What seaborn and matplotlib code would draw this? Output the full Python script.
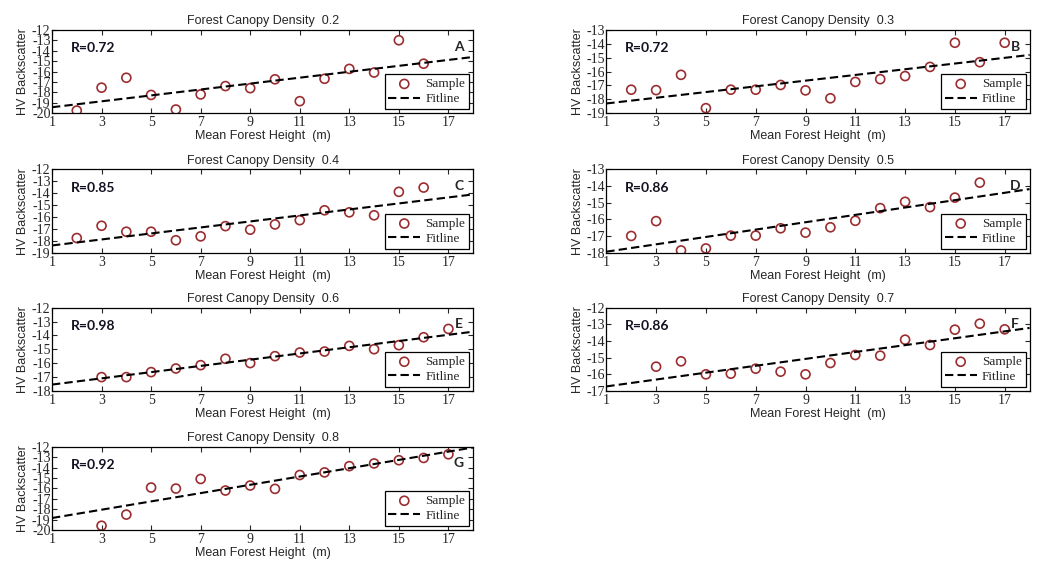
import pandas as pd
import seaborn as sns
import matplotlib.pyplot as plt

# Values (HV backscatter vs mean forest height)
DENSITIES = ["0.2", "0.3", "0.4", "0.5", "0.6", "0.7", "0.8"]
PANEL_LETTERS = ["A", "B", "C", "D", "E", "F", "G"]
R_VALUES = ["0.72", "0.72", "0.85", "0.86", "0.98", "0.86", "0.92"]
Y_LIMITS = [(-20, -12), (-19, -13), (-19, -12), (-18, -13), (-18, -12), (-17, -12), (-20, -12)]
X_TICKS = [1, 3, 5, 7, 9, 11, 13, 15, 17]

height_a = [2, 3, 4, 5, 6, 7, 8, 9, 10, 11, 12, 13, 14, 15, 16]
hv_a = [-19.75, -17.55, -16.6, -18.25, -19.65, -18.2, -17.4, -17.6, -16.75, -18.85, -16.7, -15.75, -16.1, -13.0, -15.25]

height_b = [2, 3, 4, 5, 6, 7, 8, 9, 10, 11, 12, 13, 14, 15, 16, 17]
hv_b = [-17.31, -17.34, -16.24, -18.64, -17.31, -17.31, -16.97, -17.36, -17.93, -16.75, -16.55, -16.33, -15.67, -13.93, -15.33, -13.93]

height_c = [2, 3, 4, 5, 6, 7, 8, 9, 10, 11, 12, 13, 14, 15, 16]
hv_c = [-17.76, -16.73, -17.23, -17.23, -17.95, -17.62, -16.76, -17.06, -16.62, -16.26, -15.43, -15.6, -15.85, -13.88, -13.52]

height_d = [2, 3, 4, 5, 6, 7, 8, 9, 10, 11, 12, 13, 14, 15, 16]
hv_d = [-16.99, -16.1, -17.86, -17.74, -16.97, -16.97, -16.53, -16.79, -16.47, -16.08, -15.32, -14.94, -15.26, -14.69, -13.79]

height_e = [3, 4, 5, 6, 7, 8, 9, 10, 11, 12, 13, 14, 15, 16, 17]
hv_e = [-17.0, -17.0, -16.64, -16.38, -16.14, -15.68, -15.99, -15.49, -15.23, -15.16, -14.75, -14.99, -14.7, -14.13, -13.53]

height_f = [3, 4, 5, 6, 7, 8, 9, 10, 11, 12, 13, 14, 15, 16, 17]
hv_f = [-15.54, -15.22, -16.0, -15.96, -15.66, -15.84, -16.0, -15.32, -14.84, -14.88, -13.92, -14.24, -13.32, -12.96, -13.3]

height_g = [3, 4, 5, 6, 7, 8, 9, 10, 11, 12, 13, 14, 15, 16, 17]
hv_g = [-19.59, -18.52, -15.92, -16.02, -15.1, -16.21, -15.73, -16.05, -14.72, -14.47, -13.87, -13.61, -13.3, -13.08, -12.73]

heights = [height_a, height_b, height_c, height_d, height_e, height_f, height_g]
backscatter = [hv_a, hv_b, hv_c, hv_d, hv_e, hv_f, hv_g]

df = pd.concat(
    [pd.DataFrame({"density": d, "height": h, "hv": v}) for d, h, v in zip(DENSITIES, heights, backscatter)],
    ignore_index=True,
)

SAMPLE_COLOR = "#9b2d30"
SANS = "Liberation Sans"
SERIF = "Liberation Serif"

sns.set_style("ticks")
plt.rcParams.update({
    "font.family": [SANS, "DejaVu Sans"],
    "axes.unicode_minus": False,
    "xtick.direction": "in",
    "ytick.direction": "in",
    "xtick.top": True,
    "ytick.right": True,
    "xtick.major.size": 3.5,
    "ytick.major.size": 3.5,
    "xtick.major.pad": 2,
    "ytick.major.pad": 1,
    "axes.edgecolor": "black",
    "axes.linewidth": 0.9,
})

fig = plt.figure(figsize=(10.4, 5.63), dpi=100)

col_left = [0.050, 0.583]
col_width = [0.405, 0.407]
row_bottom = [0.799, 0.551, 0.3055, 0.0586]
row_height = 0.148

for i, density in enumerate(DENSITIES):
    row, col = divmod(i, 2)
    ax = fig.add_axes([col_left[col], row_bottom[row], col_width[col], row_height])
    sub = df[df["density"] == density]

    ax.set_xlim(1, 18)
    ax.set_ylim(*Y_LIMITS[i])
    # samples as open circles, least-squares fit across the full x range
    sns.scatterplot(data=sub, x="height", y="hv", ax=ax, marker="o", s=42,
                    facecolors="none", edgecolor=SAMPLE_COLOR, linewidth=1.2,
                    label="Sample", zorder=2)
    sns.regplot(data=sub, x="height", y="hv", ax=ax, scatter=False,
                ci=None, truncate=False, label="Fitline",
                line_kws=dict(color="black", ls=(0, (4, 2)), lw=1.5, zorder=3))
    ax.set_xlim(1, 18)
    ax.set_ylim(*Y_LIMITS[i])

    ax.set_xticks(X_TICKS)
    ax.set_yticks(range(Y_LIMITS[i][0], Y_LIMITS[i][1] + 1))
    for lab in ax.get_xticklabels() + ax.get_yticklabels():
        lab.set_fontfamily(SERIF)
        lab.set_fontsize(10)

    ax.set_title(f"Forest Canopy Density  {density}", fontsize=9, pad=4)
    ax.set_xlabel("Mean Forest Height  (m)", fontsize=9, labelpad=1)
    ax.set_ylabel("HV Backscatter", fontsize=9, labelpad=2)

    ax.text(0.045, 0.78, f"R={R_VALUES[i]}", transform=ax.transAxes,
            fontsize=10, fontweight="bold", family="Lato", color="#111122", va="center")
    ax.text(0.966, 0.80, PANEL_LETTERS[i], transform=ax.transAxes,
            fontsize=10, fontweight="bold", family="Lato", ha="center", va="center")

    handles, labels = ax.get_legend_handles_labels()
    leg = ax.legend(handles, labels, loc="lower right", prop={"family": SERIF, "size": 9.5},
                    fancybox=False, framealpha=1, edgecolor="black",
                    handlelength=2.4, handletextpad=0.4, borderpad=0.3,
                    labelspacing=0.2, borderaxespad=0.3)
    leg.get_frame().set_linewidth(0.9)

fig.savefig("out.png", dpi=100)
